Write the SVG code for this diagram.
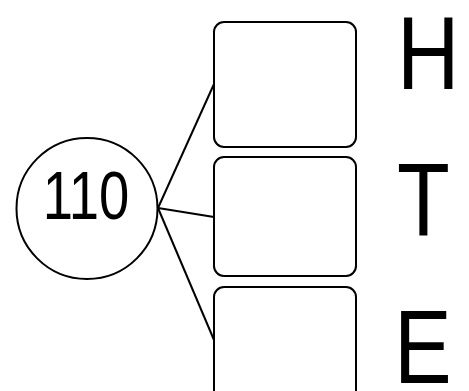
<svg xmlns="http://www.w3.org/2000/svg" width="469" height="391" viewBox="0 0 469 391">
<style>
.shape{fill:#fff;stroke:#000;stroke-width:2}
.conn{fill:none;stroke:#000;stroke-width:2}
.lbl{font-family:"Liberation Sans","DejaVu Sans",sans-serif;fill:#000}
</style>
<rect width="469" height="391" fill="#fff"/>
<g id="connectors">
<line class="conn" x1="158" y1="208" x2="214" y2="84"/>
<line class="conn" x1="158" y1="208" x2="214" y2="217"/>
<line class="conn" x1="158" y1="208" x2="214" y2="340"/>
</g>
<g id="node-110">
<circle class="shape" cx="87" cy="208.5" r="70.5"/>
<text class="lbl" transform="translate(86,219) scale(0.8,1)" text-anchor="middle" font-size="68">110</text>
</g>
<g id="box-1">
<rect class="shape" x="214" y="22" width="142" height="125" rx="10"/>
</g>
<g id="box-2">
<rect class="shape" x="214" y="157" width="142" height="119" rx="10"/>
</g>
<g id="box-3">
<rect class="shape" x="214" y="287" width="142" height="119" rx="10"/>
</g>
<g id="label-H">
<text class="lbl" transform="translate(397,89) scale(0.84,1)" font-size="103">H</text>
</g>
<g id="label-T">
<text class="lbl" transform="translate(397,236) scale(0.84,1)" font-size="103">T</text>
</g>
<g id="label-E">
<text class="lbl" transform="translate(394,383) scale(0.84,1)" font-size="103">E</text>
</g>
</svg>
